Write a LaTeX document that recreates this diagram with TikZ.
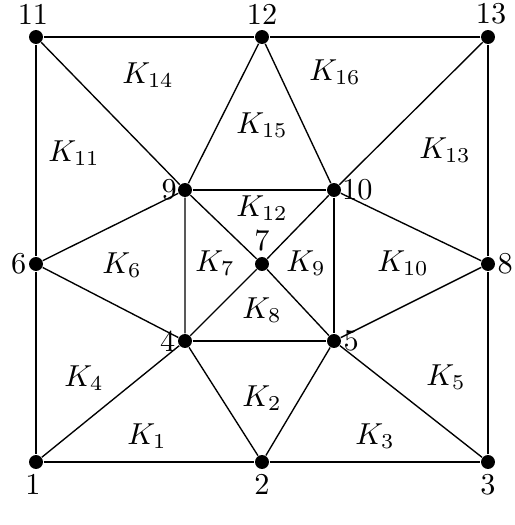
\documentclass[tikz,border=0pt]{standalone}
\begin{document}
\begin{tikzpicture}[x=0.33pt,y=-0.33pt,
  vtx/.style={circle,fill=black,inner sep=0pt,minimum size=4.6pt},
  edge/.style={line width=0.45pt},
  lab/.style={inner sep=0pt},
  every label/.style={inner sep=1pt}]
\useasboundingbox (0,0) rectangle (514,525);
\node[vtx,label={[label distance=0.5pt,xshift=-1pt]below:1}] (n1) at (36,462) {};
\node[vtx,label={[label distance=0.5pt]below:2}] (n2) at (262,462) {};
\node[vtx,label={[label distance=0.5pt]below:3}] (n3) at (488,462) {};
\node[vtx,label={[label distance=-0.5pt]left:4}] (n4) at (185,341) {};
\node[vtx,label={[label distance=-0.5pt]right:5}] (n5) at (334,341) {};
\node[vtx,label={[label distance=-0.5pt]left:6}] (n6) at (36,264) {};
\node[vtx,label={[label distance=0.5pt]above:7}] (n7) at (262,264) {};
\node[vtx,label={[label distance=-0.5pt]right:8}] (n8) at (488,264) {};
\node[vtx,label={[label distance=-1pt]left:9}] (n9) at (185,190) {};
\node[vtx,label={[label distance=-1pt]right:10}] (n10) at (334,190) {};
\node[vtx,label={[label distance=0.5pt,xshift=-1pt]above:11}] (n11) at (36,37) {};
\node[vtx,label={[label distance=0.5pt]above:12}] (n12) at (262,37) {};
\node[vtx,label={[label distance=0.5pt,xshift=1pt]above:13}] (n13) at (488,37) {};
\draw[edge] (n1) -- (n2) -- (n3) -- (n8) -- (n13) -- (n12) -- (n11) -- (n6) -- (n1);
\draw[edge] (n1) -- (n4) -- (n2) -- (n5) -- (n3);
\draw[edge] (n4) -- (n5);
\draw[edge] (n6) -- (n9) -- (n4) -- (n6);
\draw[edge] (n4) -- (n7) -- (n10);
\draw[edge] (n9) -- (n7) -- (n5);
\draw[edge] (n9) -- (n10) -- (n5);
\draw[edge] (n10) -- (n8) -- (n5);
\draw[edge] (n9) -- (n12) -- (n10);
\draw[edge] (n11) -- (n9);
\draw[edge] (n10) -- (n13);
\node[lab] (k1) at (147,436) {$K_1$};
\node[lab] (k2) at (262,398) {$K_2$};
\node[lab] (k3) at (375,436) {$K_3$};
\node[lab] (k4) at (84,378) {$K_4$};
\node[lab] (k5) at (446,377) {$K_5$};
\node[lab] (k6) at (122,265) {$K_6$};
\node[lab] (k7) at (215,263) {$K_7$};
\node[lab] (k8) at (262,310) {$K_8$};
\node[lab] (k9) at (306,263) {$K_9$};
\node[lab] (k10) at (403,263) {$K_{10}$};
\node[lab] (k11) at (74,153) {$K_{11}$};
\node[lab] (k12) at (262,208) {$K_{12}$};
\node[lab] (k13) at (445,150) {$K_{13}$};
\node[lab] (k14) at (148,75) {$K_{14}$};
\node[lab] (k15) at (262,125) {$K_{15}$};
\node[lab] (k16) at (335,72) {$K_{16}$};
\end{tikzpicture}
\end{document}
